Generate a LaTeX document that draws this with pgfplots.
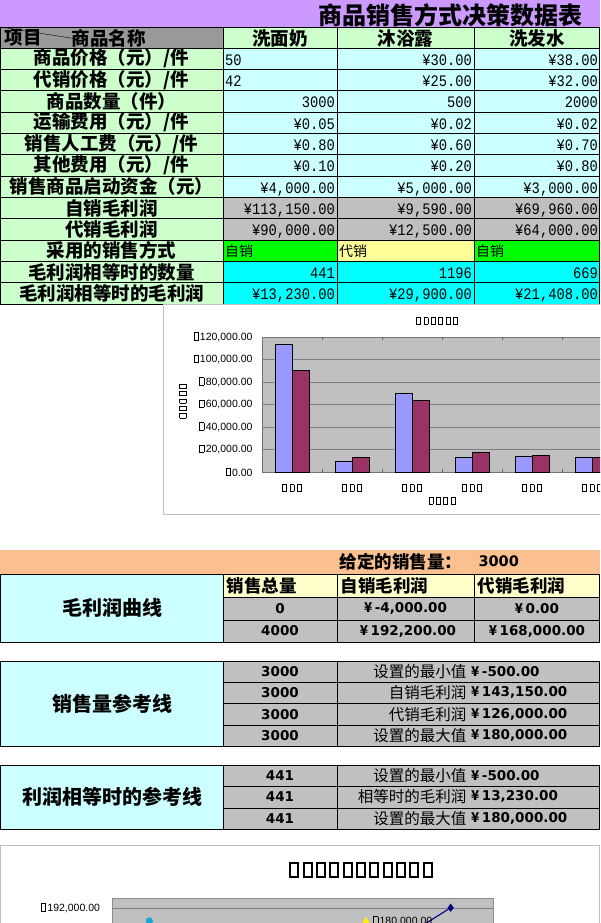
\documentclass[border=0pt]{standalone}
\usepackage{pgfplots}
\pgfplotsset{compat=1.18}
\usepackage{fontspec}
\setmainfont{Liberation Sans}
\newfontfamily\cjk{Noto Sans CJK SC}
\newfontfamily\mononum[FakeStretch=0.86]{Liberation Mono}
\newfontfamily\dv{DejaVu Sans}

\definecolor{tpurple}{HTML}{CC99FF}
\definecolor{lgreen}{HTML}{CCFFCC}
\definecolor{lcyan}{HTML}{CCFFFF}
\definecolor{cgray}{HTML}{C0C0C0}
\definecolor{hgray}{HTML}{999999}
\definecolor{bgreen}{HTML}{00FF00}
\definecolor{lyellow}{HTML}{FFFF99}
\definecolor{hyellow}{HTML}{FFFFCC}
\definecolor{bcyan}{HTML}{00FFFF}
\definecolor{obeige}{HTML}{FAC090}
\definecolor{barblue}{HTML}{9999FF}
\definecolor{barred}{HTML}{993366}
\definecolor{navy}{HTML}{000080}

\newcommand\fs[1]{\fontsize{#1}{#1}\selectfont}
% box drawn where the original chart font had no glyph
\def\tofuw#1{\leavevmode\hbox to 0.74em{\hss\vbox{\hrule height #1\hbox{\vrule width #1 height 0.64em depth 0pt\kern 0.34em\vrule width #1 height 0.64em depth 0pt}\hrule height #1}\hss}}
\protected\def\tofu{\tofuw{0.07em}}
\protected\def\btofu{\tofuw{0.11em}}
\newcommand\yen{{\cjk\bfseries ¥}\kern2.5pt}
\newcommand\lab{\cjk\bfseries\fs{18.5}}
\newcommand\val{\mononum\fs{16}}
\newcommand\num{\dv\bfseries\fs{13.5}}

\begin{document}
\begin{tikzpicture}
\useasboundingbox (0,0) rectangle (600pt,-923pt);
\fill[white] (0,0) rectangle (600pt,-923pt);
\clip (0,0) rectangle (600pt,-923pt);

\begin{scope}[x=1pt,y=-1pt]
% ---------- top table ----------
\fill[tpurple] (0,0) rectangle (600,27);
\node[anchor=base east,font=\cjk\bfseries\fs{24}] at (586,25) {商品销售方式决策数据表};
\fill[hgray] (0,27) rectangle (223,48);
\fill[lgreen] (223,27) rectangle (600,48);
\fill[lgreen] (0,48) rectangle (223,304);
\fill[lcyan] (223,48) rectangle (600,197.33);
\fill[cgray] (223,197.33) rectangle (600,240);
\fill[bgreen] (223,240) rectangle (337,261.33);
\fill[lyellow] (337,240) rectangle (474,261.33);
\fill[bgreen] (474,240) rectangle (600,261.33);
\fill[bcyan] (223,261.33) rectangle (600,304);
\draw (0,27) -- (600,27);
\foreach \k in {0,...,12} \draw (0,{48+\k*21.333}) -- (600,{48+\k*21.333});
\foreach \x in {0.5,223,337,474,599.5} \draw (\x,27) -- (\x,304);
\draw (0,27) -- (74,38.5);
\node[anchor=west,font=\lab] at (1,38) {项目};
\node[anchor=west,font=\lab] at (68,38) {商品名称};
\node[font=\lab] at (280,38) {洗面奶};
\node[font=\lab] at (405.5,38) {沐浴露};
\node[font=\lab] at (537,38) {洗发水};
\foreach \k/\t in {1/{商品价格（元）/件},2/{代销价格（元）/件},3/{商品数量（件）},
  4/{运输费用（元）/件},5/{销售人工费（元）/件},6/{其他费用（元）/件},
  7/{销售商品启动资金（元）},8/{自销毛利润},9/{代销毛利润},10/{采用的销售方式},
  11/{毛利润相等时的数量},12/{毛利润相等时的毛利润}}
  \node[font=\lab] at (111.5,{48+(\k-0.5)*21.333}) {\t};
\foreach \k/\a/\b/\c in {3/3000/500/2000, 4/{¥0.05}/{¥0.02}/{¥0.02},
  5/{¥0.80}/{¥0.60}/{¥0.70}, 6/{¥0.10}/{¥0.20}/{¥0.80},
  7/{¥4,000.00}/{¥5,000.00}/{¥3,000.00}, 8/{¥113,150.00}/{¥9,590.00}/{¥69,960.00},
  9/{¥90,000.00}/{¥12,500.00}/{¥64,000.00}, 11/441/1196/669,
  12/{¥13,230.00}/{¥29,900.00}/{¥21,408.00}}{
  \node[anchor=base east,font=\val,inner sep=0pt] at (335,{48+\k*21.333-4}) {\a};
  \node[anchor=base east,font=\val,inner sep=0pt] at (472,{48+\k*21.333-4}) {\b};
  \node[anchor=base east,font=\val,inner sep=0pt] at (598,{48+\k*21.333-4}) {\c};
}
\foreach \k/\a/\b/\c in {1/50/{¥30.00}/{¥38.00}, 2/42/{¥25.00}/{¥32.00}}{
  \node[anchor=base west,font=\val,inner sep=0pt] at (225,{48+\k*21.333-4}) {\a};
  \node[anchor=base east,font=\val,inner sep=0pt] at (472,{48+\k*21.333-4}) {\b};
  \node[anchor=base east,font=\val,inner sep=0pt] at (598,{48+\k*21.333-4}) {\c};
}
\node[anchor=west,font=\cjk\fs{14},inner sep=0pt] at (225,251) {自销};
\node[anchor=west,font=\cjk\fs{14},inner sep=0pt] at (339,251) {代销};
\node[anchor=west,font=\cjk\fs{14},inner sep=0pt] at (476,251) {自销};

% ---------- chart frames ----------
\draw[black!25,line width=1pt] (163.5,304) rectangle (640,514.5);
\draw[black!25,line width=1pt] (0.5,845.5) rectangle (599.5,960);

% ---------- given sales ----------
\fill[obeige] (0,550) rectangle (600,574);
\node[anchor=west,font=\cjk\bfseries\fs{17.5}] at (336,561.5) {给定的销售量：};
\node[anchor=west,font=\dv\bfseries\fs{14.5}] at (475,561.5) {3000};

% table A
\fill[lcyan] (0,574) rectangle (223,642);
\fill[hyellow] (223,574) rectangle (600,597);
\fill[cgray] (223,597) rectangle (600,642);
\draw (0.5,574) rectangle (599.5,642);
\draw (223,597) -- (600,597) (223,620) -- (600,620);
\foreach \x in {223,337,474} \draw (\x,574) -- (\x,642);
\node[font=\cjk\bfseries\fs{20}] at (112,608) {毛利润曲线};
\node[anchor=west,font=\cjk\bfseries\fs{17.5}] at (223,585.5) {销售总量};
\node[anchor=west,font=\cjk\bfseries\fs{17.5}] at (337,585.5) {自销毛利润};
\node[anchor=west,font=\cjk\bfseries\fs{17.5}] at (474,585.5) {代销毛利润};
\node[font=\num] at (280,608.5) {0};
\node[font=\num] at (280,631) {4000};
\node[font=\num] at (405.5,608.5) {\yen-4,000.00};
\node[font=\num] at (408,631) {\yen192,200.00};
\node[font=\num] at (537,608.5) {\yen0.00};
\node[font=\num] at (537,631) {\yen168,000.00};

% table B
\fill[lcyan] (0,661) rectangle (223,746);
\fill[cgray] (223,661) rectangle (600,746);
\draw (0.5,661) rectangle (599.5,746);
\foreach \y in {682.25,703.5,724.75} \draw (223,\y) -- (600,\y);
\foreach \x in {223,337} \draw (\x,661) -- (\x,746);
\node[font=\cjk\bfseries\fs{20}] at (112,703.5) {销售量参考线};
\foreach \k/\t/\v in {0/{设置的最小值}/{-500.00}, 1/{自销毛利润}/{143,150.00},
   2/{代销毛利润}/{126,000.00}, 3/{设置的最大值}/{180,000.00}}{
  \node[font=\num] at (280,{671.6+\k*21.25}) {3000};
  \node[anchor=east,font=\cjk\fs{15.5}] at (470,{671.6+\k*21.25}) {\t};
  \node[anchor=west,font=\num,inner sep=0pt] at (471,{671.6+\k*21.25}) {\yen\v};
}

% table C
\fill[lcyan] (0,765) rectangle (223,829);
\fill[cgray] (223,765) rectangle (600,829);
\draw (0.5,765) rectangle (599.5,829);
\foreach \y in {786.3,807.7} \draw (223,\y) -- (600,\y);
\foreach \x in {223,337} \draw (\x,765) -- (\x,829);
\node[font=\cjk\bfseries\fs{20}] at (112,797) {利润相等时的参考线};
\foreach \k/\t/\v in {0/{设置的最小值}/{-500.00}, 1/{相等时的毛利润}/{13,230.00},
   2/{设置的最大值}/{180,000.00}}{
  \node[font=\num] at (280,{775.6+\k*21.33}) {441};
  \node[anchor=east,font=\cjk\fs{15.5}] at (470,{775.6+\k*21.33}) {\t};
  \node[anchor=west,font=\num,inner sep=0pt] at (471,{775.6+\k*21.33}) {\yen\v};
}

% chart captions (glyphs missing in the original)
\node[font=\fs{10}] at (437,321) {\tofu\tofu\tofu\tofu\tofu\tofu};
\node[font=\fs{10},rotate=90] at (183,401) {\tofu\tofu\tofu\tofu\tofu};
\node[font=\fs{10}] at (442,500.5) {\tofu\tofu\tofu\tofu};
\node[font=\fs{18}] at (361,870) {\btofu\btofu\btofu\btofu\btofu\btofu\btofu\btofu\btofu\btofu\btofu};
\end{scope}

% ---------- bar chart ----------
\begin{axis}[
  at={(262pt,-472pt)}, anchor=south west,
  scale only axis, width=360pt, height=135pt,
  xmin=0.5, xmax=6.5, ymin=0, ymax=120000,
  ybar=0pt, bar width=17pt,
  axis background/.style={fill=cgray},
  axis line style={black!55},
  ymajorgrids, grid style={black!50, line width=0.8pt},
  scaled y ticks=false,
  ytick={0,20000,40000,60000,80000,100000,120000},
  yticklabels={{\tofu0.00},{\tofu20,000.00},{\tofu40,000.00},{\tofu60,000.00},{\tofu80,000.00},{\tofu100,000.00},{\tofu120,000.00}},
  yticklabel style={font=\fs{10.5}, xshift=-6pt},
  xtick={1,2,3,4,5,6},
  xticklabels={\tofu\tofu\tofu,\tofu\tofu\tofu,\tofu\tofu\tofu,\tofu\tofu\tofu,\tofu\tofu\tofu,\tofu\tofu\tofu},
  xticklabel style={font=\fs{10}, yshift=-8.5pt},
  major tick length=0pt,
  extra x ticks={1.5,2.5,3.5,4.5,5.5}, extra x tick labels={},
  extra x tick style={major tick length=3pt, tick align=inside, tick style={black!60}},
]
\addplot[fill=barblue, draw=black, line width=0.9pt] coordinates {(1,113150) (2,9590) (3,69960) (4,13230) (5,14200) (6,13100)};
\addplot[fill=barred, draw=black, line width=0.9pt] coordinates {(1,90000) (2,12500) (3,64000) (4,17800) (5,15100) (6,13100)};
\end{axis}

% ---------- profit line chart (cut off) ----------
\begin{axis}[
  at={(112pt,-898pt)}, anchor=north west,
  scale only axis, width=381pt, height=55.4pt,
  xmin=0, xmax=4500, ymin=150000, ymax=201200,
  axis background/.style={fill=cgray},
  axis line style={black!45},
  ymajorgrids, grid style={black!50, line width=0.8pt},
  scaled y ticks=false,
  ytick={168000,192000},
  yticklabels={{\tofu168,000.00},{\tofu192,000.00}},
  yticklabel style={font=\fs{10.5}, xshift=-8.5pt},
  xtick=\empty, major tick length=0pt,
]
\addplot[navy, line width=1.1pt, mark=diamond*, mark size=3.2pt] coordinates {(0,-4000) (4000,192200)};
\addplot[magenta, line width=1.1pt, mark=square*, mark size=2.5pt] coordinates {(0,0) (4000,168000)};
\addplot[yellow, line width=1.1pt, mark=triangle*, mark size=3pt] coordinates {(3000,-500) (3000,143150) (3000,126000) (3000,180000)}
  node[pos=1, anchor=west, font=\fs{10.5}, text=black, xshift=2pt] {\tofu180,000.00};
\addplot[cyan!80!teal, line width=1.1pt, mark=*, mark size=3pt] coordinates {(441,-500) (441,13230) (441,180000)};
\end{axis}
\end{tikzpicture}
\end{document}
